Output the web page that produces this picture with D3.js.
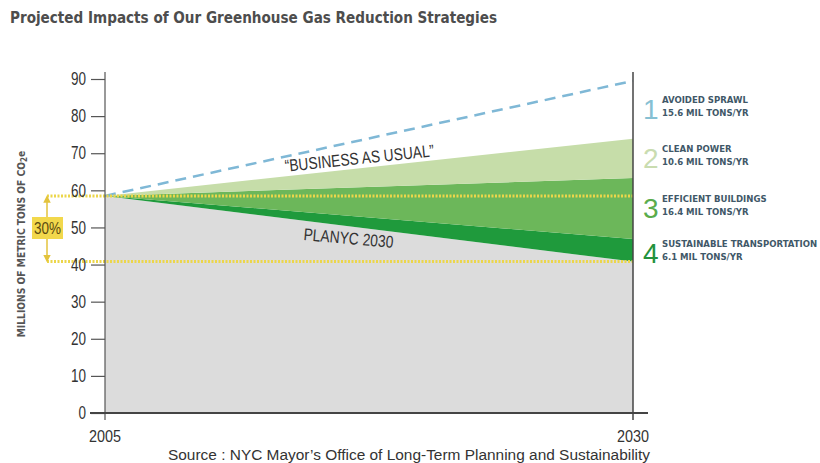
<!DOCTYPE html>
<html>
<head>
<meta charset="utf-8">
<script src="https://cdn.jsdelivr.net/npm/d3@7"></script>
<style>
  body { margin: 0; background: #fff; }
  svg text { font-family: "Liberation Sans Narrow", "Liberation Sans", Arial, sans-serif; }
  .cond { font-family: "DejaVu Sans Condensed", "DejaVu Sans", sans-serif; font-weight: bold; }
</style>
</head>
<body>
<svg id="chart" width="820" height="463"></svg>
<script>
// chart data
const years = [2005, 2030];
const planyc = [58.5, 40.8];          // PlaNYC 2030 path
const businessAsUsual = [58.5, 89.5]; // dashed line
// reduction wedges, stacked on top of PlaNYC (bottom -> top)
const wedgeKeys = ["transport", "buildings", "power", "sprawl"];
const wedgeValues = {
  transport: [0, 6.1],
  buildings: [0, 16.4],
  power: [0, 10.6],
  sprawl: [0, 15.6]
};
const yTicks = [0, 10, 20, 30, 40, 50, 60, 70, 80, 90];
const legendItems = [
  { n: "1", name: "AVOIDED SPRAWL", amount: "15.6 MIL TONS/YR" },
  { n: "2", name: "CLEAN POWER", amount: "10.6 MIL TONS/YR" },
  { n: "3", name: "EFFICIENT BUILDINGS", amount: "16.4 MIL TONS/YR" },
  { n: "4", name: "SUSTAINABLE TRANSPORTATION", amount: "6.1 MIL TONS/YR" }
];

const svg = d3.select("#chart");

const x = d3.scaleLinear().domain([2005, 2030]).range([105, 633]);
const y = d3.scaleLinear().domain([0, 90]).range([413, 79]);

const fills = { transport: "#1f9a3c", buildings: "#6cb75a", power: "#c6dda9", sprawl: "none" };
const legendColors = ["#86c0d3", "#c9dcb0", "#5aac4c", "#23923c"];

// narrow look: squeeze each label to roughly the width seen in the picture
function narrow(sel, perChar) {
  sel.attr("textLength", function () { return this.textContent.length * perChar; })
    .attr("lengthAdjust", "spacingAndGlyphs");
}

// title
svg.append("text").attr("class", "cond")
  .attr("x", 10).attr("y", 23)
  .attr("font-size", 15).attr("fill", "#4d4d4d")
  .attr("textLength", 487).attr("lengthAdjust", "spacingAndGlyphs")
  .text("Projected Impacts of Our Greenhouse Gas Reduction Strategies");

// rows for the stack
const rows = years.map((yr, i) => {
  const r = { year: yr, base: planyc[i] };
  wedgeKeys.forEach(k => r[k] = wedgeValues[k][i]);
  return r;
});

// gray PlaNYC area
svg.append("path")
  .datum(rows)
  .attr("fill", "#dcdcdc")
  .attr("d", d3.area().x(d => x(d.year)).y0(y(0)).y1(d => y(d.base)));

const stack = d3.stack().keys(["base"].concat(wedgeKeys));
const series = stack(rows);

svg.selectAll(".wedge")
  .data(series.filter(s => s.key !== "base"))
  .join("path")
  .attr("class", "wedge")
  .attr("fill", s => fills[s.key])
  .attr("d", d3.area()
    .x(d => x(d.data.year))
    .y0(d => y(d[0]))
    .y1(d => y(d[1])));

// business as usual dashed line
svg.append("path")
  .datum(years.map((yr, i) => [yr, businessAsUsual[i]]))
  .attr("fill", "none")
  .attr("stroke", "#7fb8d6")
  .attr("stroke-width", 2.5)
  .attr("stroke-dasharray", "11,7")
  .attr("d", d3.line().x(d => x(d[0])).y(d => y(d[1])));

// yellow dotted reference lines (start level and 30% below)
const refLevels = [planyc[0], planyc[1]];
svg.selectAll(".ref")
  .data(refLevels)
  .join("line")
  .attr("class", "ref")
  .attr("x1", 47).attr("x2", x(2030))
  .attr("y1", d => y(d)).attr("y2", d => y(d))
  .attr("stroke", "#ecd64a")
  .attr("stroke-width", 3)
  .attr("stroke-dasharray", "2,1.5");

// 30% bracket arrow
const defs = svg.append("defs");
defs.append("marker").attr("id", "arr")
  .attr("viewBox", "0 0 10 10").attr("refX", 5).attr("refY", 5)
  .attr("markerWidth", 5).attr("markerHeight", 5).attr("orient", "auto-start-reverse")
  .append("path").attr("d", "M0,0L10,5L0,10z").attr("fill", "#e3c33c");
svg.append("line")
  .attr("x1", 47).attr("x2", 47)
  .attr("y1", y(planyc[0]) + 3).attr("y2", y(planyc[1]) - 3)
  .attr("stroke", "#e3c33c").attr("stroke-width", 1.5)
  .attr("marker-start", "url(#arr)").attr("marker-end", "url(#arr)");
svg.append("rect")
  .attr("x", 32).attr("y", 217).attr("width", 31).attr("height", 22)
  .attr("fill", "#f2d84c");
svg.append("text")
  .attr("x", 47.5).attr("y", 234).attr("text-anchor", "middle")
  .attr("font-size", 16).attr("fill", "#5a4a10")
  .attr("textLength", 27).attr("lengthAdjust", "spacingAndGlyphs")
  .text("30%");

// axes
const yAxis = svg.append("g").attr("transform", `translate(${x(2005)},0)`)
  .call(d3.axisLeft(y).tickValues(yTicks).tickSize(14).tickPadding(5).tickFormat(d3.format("d")));
yAxis.select(".domain").remove();
yAxis.selectAll("line").attr("stroke", "#555").attr("stroke-width", 1.2);
yAxis.selectAll("text").attr("font-size", 18).attr("fill", "#333")
  .attr("font-family", "'Liberation Sans Narrow', 'Liberation Sans', sans-serif")
  .call(narrow, 7.5);

// axis lines
svg.append("line").attr("x1", x(2005)).attr("x2", x(2005)).attr("y1", 72).attr("y2", 420)
  .attr("stroke", "#555").attr("stroke-width", 1.2);
svg.append("line").attr("x1", x(2030)).attr("x2", x(2030)).attr("y1", 72).attr("y2", 420)
  .attr("stroke", "#444").attr("stroke-width", 1.5);
svg.append("line").attr("x1", 90).attr("x2", 648).attr("y1", y(0)).attr("y2", y(0))
  .attr("stroke", "#444").attr("stroke-width", 2);

svg.selectAll(".xlab")
  .data(years)
  .join("text")
  .attr("class", "xlab")
  .attr("x", d => x(d)).attr("y", 442)
  .attr("text-anchor", "middle")
  .attr("font-size", 17).attr("fill", "#333")
  .text(d => d)
  .call(narrow, 8);

// y axis title
svg.append("text").attr("class", "cond")
  .attr("transform", "translate(25,244) rotate(-90)")
  .attr("text-anchor", "middle")
  .attr("font-size", 10.2).attr("fill", "#555")
  .html("MILLIONS OF METRIC TONS OF CO<tspan font-size='8' dy='2'>2</tspan><tspan dy='-2'>e</tspan>");

// annotations on the chart
svg.append("text")
  .attr("transform", "translate(360,164) rotate(-6)")
  .attr("text-anchor", "middle")
  .attr("font-size", 17).attr("fill", "#333")
  .attr("textLength", 150).attr("lengthAdjust", "spacingAndGlyphs")
  .text("\u201CBUSINESS AS USUAL\u201D");
svg.append("text")
  .attr("transform", "translate(348,244) rotate(5)")
  .attr("text-anchor", "middle")
  .attr("font-size", 17).attr("fill", "#333")
  .attr("textLength", 90).attr("lengthAdjust", "spacingAndGlyphs")
  .text("PLANYC 2030");

// legend on the right
const legendY = [119, 168, 218, 263];
const leg = svg.selectAll(".leg")
  .data(legendItems)
  .join("g")
  .attr("class", "leg")
  .attr("transform", (d, i) => `translate(643,${legendY[i]})`);
leg.append("text")
  .attr("font-size", 28)
  .attr("font-family", "'DejaVu Sans Condensed', sans-serif")
  .attr("fill", (d, i) => legendColors[i])
  .text(d => d.n);
leg.append("text").attr("class", "cond")
  .attr("x", 19).attr("y", -16)
  .attr("font-size", 9.5).attr("fill", "#3f5868")
  .text(d => d.name);
leg.append("text").attr("class", "cond")
  .attr("x", 19).attr("y", -3)
  .attr("font-size", 9.5).attr("fill", "#3f5868")
  .text(d => d.amount);

// source line
svg.append("text")
  .attr("x", 168).attr("y", 459.5)
  .attr("font-size", 15.5).attr("fill", "#333")
  .attr("textLength", 482).attr("lengthAdjust", "spacingAndGlyphs")
  .text("Source : NYC Mayor\u2019s Office of Long-Term Planning and Sustainability");
</script>
</body>
</html>
